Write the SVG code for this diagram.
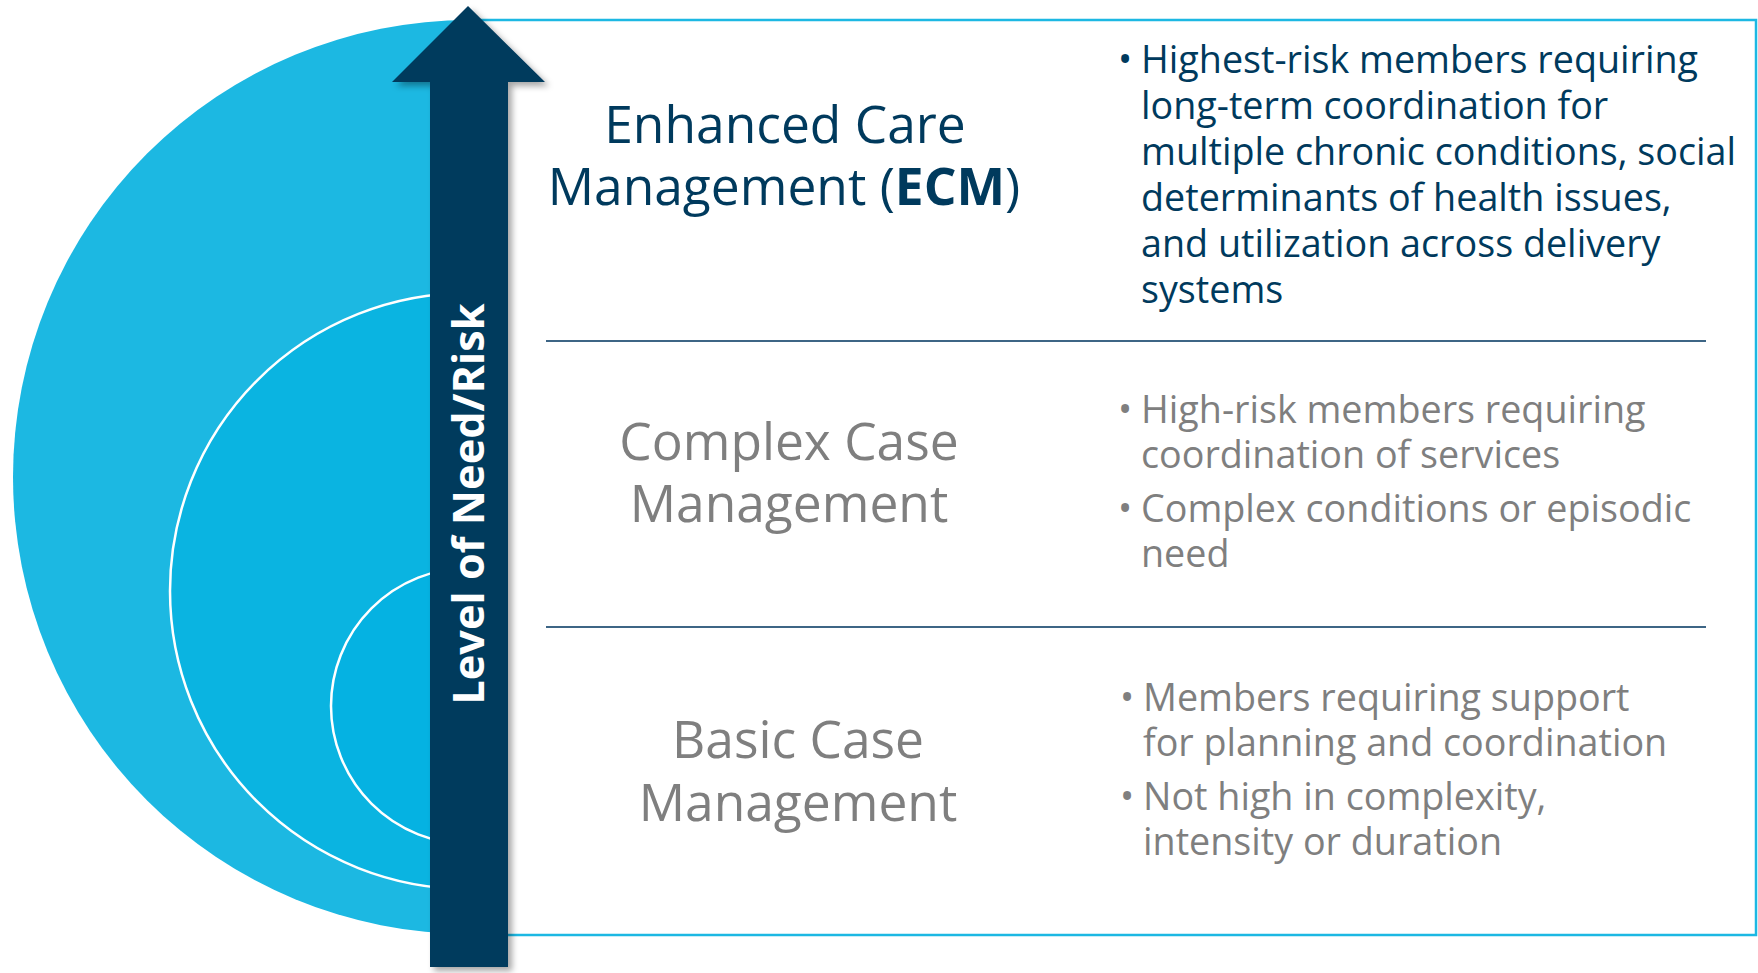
<svg xmlns="http://www.w3.org/2000/svg" width="1758" height="973" viewBox="0 0 1758 973">
<defs>
<style>
.title{font-family:"Open Sans","Noto Sans","Liberation Sans",sans-serif;font-size:51.5px;text-anchor:middle}
.bul{font-family:"Open Sans","Noto Sans","Liberation Sans",sans-serif;font-size:37.7px}
.navy{fill:#003A5D}
.gray{fill:#7F7F7F}
.div{stroke:#3D6585;stroke-width:2}
.ring{stroke:#FFFFFF;stroke-width:2.5}
</style>
<filter id="sh" x="-20%" y="-5%" width="150%" height="115%">
<feDropShadow dx="4" dy="4" stdDeviation="3" flood-color="#000" flood-opacity="0.35"/>
</filter>
</defs>
<rect width="1758" height="973" fill="#FFFFFF"/>
<g id="circles">
<circle cx="470" cy="477" r="457" fill="#1CB8E2"/>
<circle cx="468" cy="591" r="298" fill="#0AB4E1" class="ring"/>
<circle cx="469" cy="706" r="138" fill="#05B2E2" class="ring"/>
</g>
<g id="panel">
<rect x="470" y="20" width="1286" height="915" fill="#FFFFFF" stroke="#1CB8E3" stroke-width="2.5"/>
</g>
<g id="connectors">
<line x1="546" y1="341" x2="1706" y2="341" class="div"/>
<line x1="546" y1="627" x2="1706" y2="627" class="div"/>
</g>
<g id="arrow">
<polygon points="468,6 545,82 508,82 508,967 430,967 430,82 392,82" fill="#003A5D" filter="url(#sh)"/>
<text transform="translate(484,504) rotate(-90)" text-anchor="middle" font-family="'Open Sans','Noto Sans','Liberation Sans',sans-serif" font-weight="bold" font-size="43.3" fill="#FFFFFF">Level of Need/Risk</text>
</g>
<g id="ecm">
<text class="title navy" x="785" y="143">Enhanced Care</text>
<text class="title navy" x="784" y="205">Management (<tspan font-weight="bold">ECM</tspan>)</text>
<text class="bul navy"><tspan x="1118" y="73">•</tspan><tspan x="1141" y="73">Highest-risk members requiring</tspan><tspan x="1141" y="119">long-term coordination for</tspan><tspan x="1141" y="165">multiple chronic conditions, social</tspan><tspan x="1141" y="211">determinants of health issues,</tspan><tspan x="1141" y="257">and utilization across delivery</tspan><tspan x="1141" y="303">systems</tspan></text>
</g>
<g id="complex">
<text class="title gray" x="789" y="460">Complex Case</text>
<text class="title gray" x="789" y="522">Management</text>
<text class="bul gray"><tspan x="1118" y="423">•</tspan><tspan x="1141" y="423">High-risk members requiring</tspan><tspan x="1141" y="468">coordination of services</tspan><tspan x="1118" y="522">•</tspan><tspan x="1141" y="522">Complex conditions or episodic</tspan><tspan x="1141" y="567">need</tspan></text>
</g>
<g id="basic">
<text class="title gray" x="798" y="758">Basic Case</text>
<text class="title gray" x="798" y="821">Management</text>
<text class="bul gray"><tspan x="1120" y="711">•</tspan><tspan x="1143" y="711">Members requiring support</tspan><tspan x="1143" y="756">for planning and coordination</tspan><tspan x="1120" y="810">•</tspan><tspan x="1143" y="810">Not high in complexity,</tspan><tspan x="1143" y="855">intensity or duration</tspan></text>
</g>
</svg>
